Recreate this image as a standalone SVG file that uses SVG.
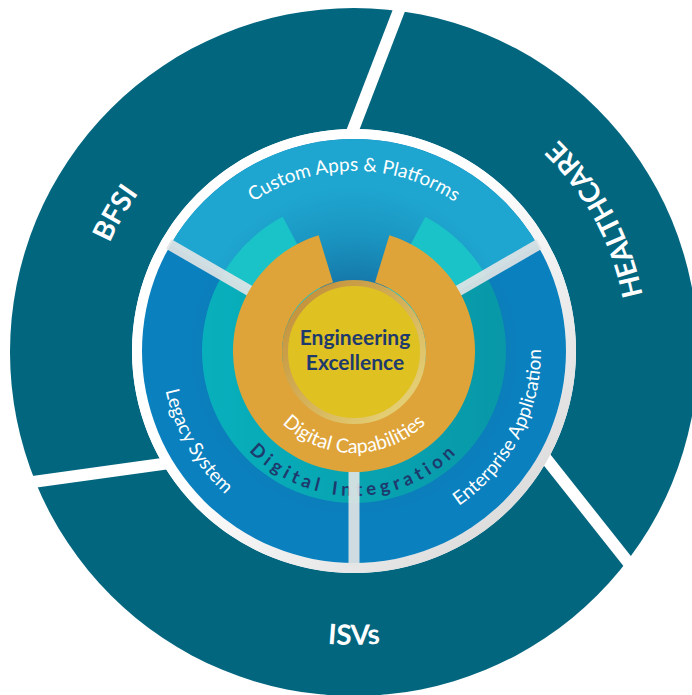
<svg xmlns="http://www.w3.org/2000/svg" width="692" height="695" viewBox="0 0 692 695">
<defs>
<style>
.t-out{font-family:Lato,"Liberation Sans",sans-serif;font-weight:700;font-size:28px;fill:#ffffff}
.t-mid{font-family:Lato,"Liberation Sans",sans-serif;font-weight:400;font-size:19px;fill:#ffffff}
.t-cap{font-family:Lato,"Liberation Sans",sans-serif;font-weight:400;font-size:19.5px;fill:#ffffff}
.t-int{font-family:Lato,"Liberation Sans",sans-serif;font-weight:700;font-size:18.5px;fill:#1e3a6d;letter-spacing:4.5px}
.t-core{font-family:Lato,"Liberation Sans",sans-serif;font-weight:700;font-size:21px;fill:#1e3a6d}
.sep-out{stroke:#ffffff;stroke-width:12;stroke-linecap:butt}
.sep-in{stroke:#e4e6e6;stroke-width:11;stroke-linecap:butt;opacity:0.9}
</style>
<linearGradient id="ringShade" x1="0" y1="0" x2="1" y2="1">
<stop offset="0" stop-color="#ffffff"/>
<stop offset="0.45" stop-color="#ffffff"/>
<stop offset="1" stop-color="#d2d2d2"/>
</linearGradient>
<linearGradient id="goldRing" x1="0" y1="0" x2="1" y2="1">
<stop offset="0" stop-color="#bf8a34"/>
<stop offset="1" stop-color="#ead97e"/>
</linearGradient>
<linearGradient id="tealShade" x1="0" y1="0" x2="1" y2="0">
<stop offset="0" stop-color="#08b0bc"/>
<stop offset="1" stop-color="#0898a8"/>
</linearGradient>
<radialGradient id="notchShadow" gradientUnits="userSpaceOnUse" cx="354" cy="351" r="165">
<stop offset="0.4" stop-color="#0a3c78" stop-opacity="0.45"/>
<stop offset="0.75" stop-color="#0a4a80" stop-opacity="0.15"/>
<stop offset="1" stop-color="#0a4a80" stop-opacity="0"/>
</radialGradient>
<path id="p-isv" d="M 60 351 A 294 294 0 0 0 648 351"/>
<path id="p-health" d="M 494.29 609.37 A 294 294 0 0 0 213.71 92.63"/>
<path id="p-bfsi" d="M 220.5 582.23 A 267 267 0 0 1 487.5 119.77"/>
<path id="p-custom" d="M 174 351 A 180 180 0 0 1 534 351"/>
<path id="p-legacy" d="M 256 181.3 A 196 196 0 0 0 452 520.7"/>
<path id="p-enter" d="M 267.07 516.57 A 187 187 0 0 0 440.93 185.43"/>
<path id="p-cap" d="M 252 351 A 102 102 0 0 0 456 351"/>
<path id="p-int" d="M 209 351 A 145 145 0 0 0 499 351"/>
</defs>

<rect x="0" y="0" width="692" height="695" fill="#ffffff"/>

<g id="industry-ring">
<circle cx="354" cy="352" r="344" fill="#03667f"/>
</g>

<g id="separators">
<line class="sep-out" x1="405.7" y1="-7.2" x2="349" y2="140"/>
<line class="sep-out" x1="0" y1="486.6" x2="175" y2="462.2"/>
<line class="sep-out" x1="540" y1="451" x2="662" y2="605"/>
</g>

<g id="bfsi"><text class="t-out"><textPath href="#p-bfsi" startOffset="50%" text-anchor="middle">BFSI</textPath></text></g>
<g id="healthcare"><text class="t-out"><textPath href="#p-health" startOffset="50%" text-anchor="middle">HEALTHCARE</textPath></text></g>
<g id="isvs"><text class="t-out"><textPath href="#p-isv" startOffset="50%" text-anchor="middle">ISVs</textPath></text></g>

<g id="solution-ring">
<circle cx="354" cy="351" r="222" fill="#ffffff"/>
<circle cx="354" cy="351" r="217" fill="none" stroke="url(#ringShade)" stroke-width="10"/>
<circle cx="354" cy="351" r="212" fill="#0b80be"/>
</g>

<g id="custom-apps">
<path d="M 354 351 L 170.4 245 A 212 212 0 0 1 537.6 245 Z" fill="#1ea6d0"/>
<text class="t-mid"><textPath href="#p-custom" startOffset="50%" text-anchor="middle">Custom Apps &amp; Platforms</textPath></text>
</g>

<g id="legacy-system">
<text class="t-mid"><textPath href="#p-legacy" startOffset="50%" text-anchor="middle">Legacy System</textPath></text>
</g>

<g id="enterprise-application">
<text class="t-mid"><textPath href="#p-enter" startOffset="50%" text-anchor="middle">Enterprise Application</textPath></text>
</g>

<circle cx="354" cy="351" r="165" fill="url(#notchShadow)"/>

<g id="digital-integration">
<path d="M 354 351 L 485.64 275 A 152 152 0 1 1 222.36 275 Z" fill="url(#tealShade)"/>
<path d="M 354 351 L 222.36 275 A 152 152 0 0 1 282.64 216.79 Z" fill="#1ac3c8"/>
<path d="M 354 351 L 425.36 216.79 A 152 152 0 0 1 485.64 275 Z" fill="#1ac3c8"/>
<text class="t-int"><textPath href="#p-int" startOffset="50%" text-anchor="middle">Digital Integration</textPath></text>
</g>

<g id="ring-dividers">
<line class="sep-in" x1="251.8" y1="292" x2="168.7" y2="244"/>
<line class="sep-in" x1="456.2" y1="292" x2="539.3" y2="244"/>
<line class="sep-in" x1="354" y1="469" x2="354" y2="566"/>
</g>

<g id="digital-capabilities">
<path d="M 389.38 235.29 A 121 121 0 1 1 318.62 235.29 L 332.95 282.15 A 72 72 0 1 0 375.05 282.15 Z" fill="#dea43a"/>
<text class="t-cap"><textPath href="#p-cap" startOffset="50%" text-anchor="middle">Digital Capabilities</textPath></text>
</g>

<g id="engineering-excellence">
<circle cx="354" cy="352" r="69" fill="#dfc122" stroke="url(#goldRing)" stroke-width="6"/>
<text class="t-core" x="355" y="345" text-anchor="middle">Engineering</text>
<text class="t-core" x="355" y="370" text-anchor="middle">Excellence</text>
</g>
</svg>
